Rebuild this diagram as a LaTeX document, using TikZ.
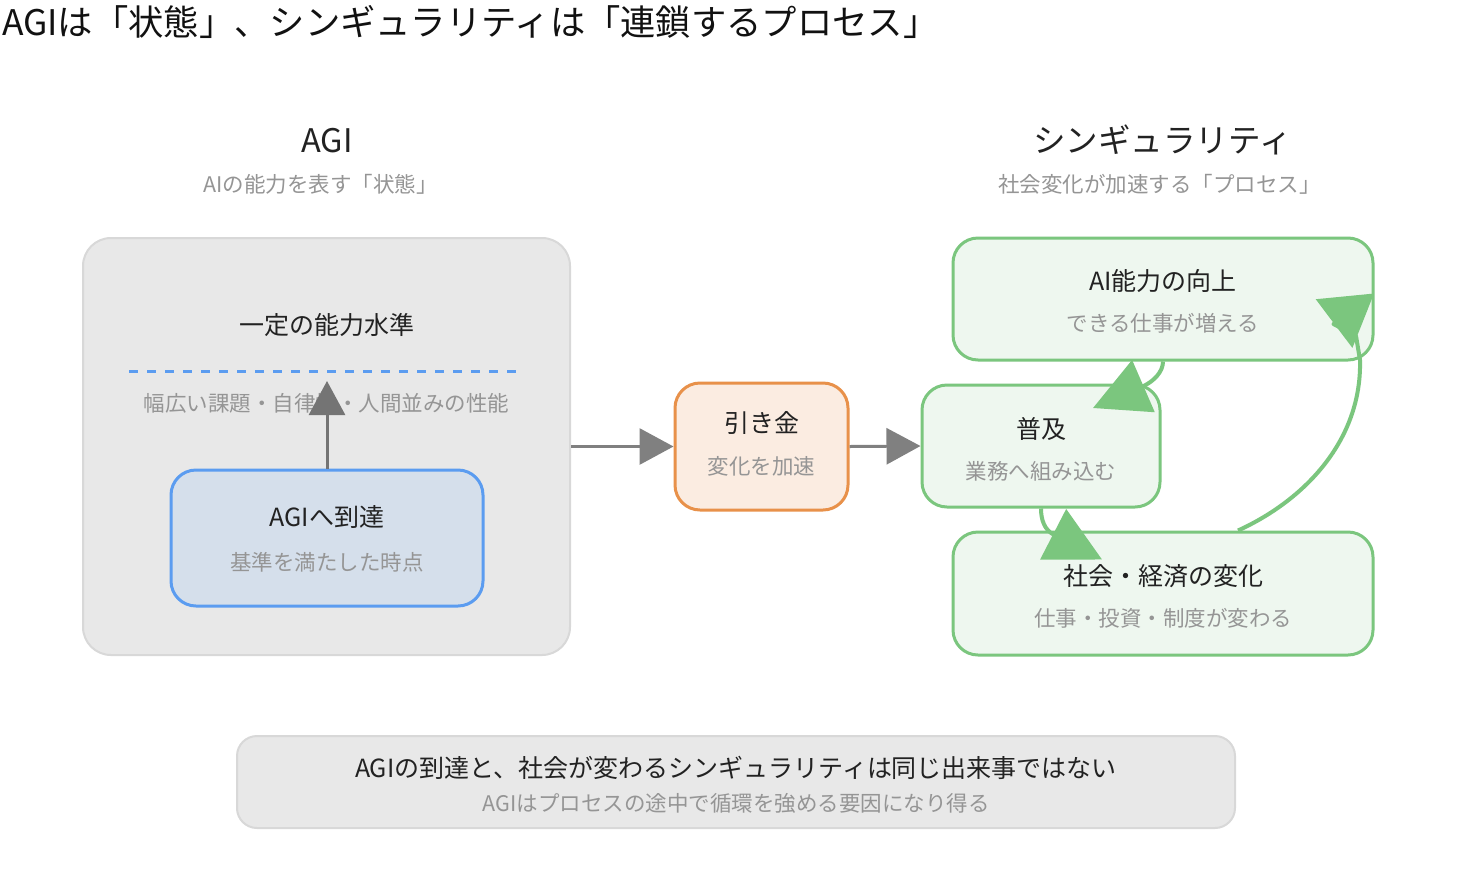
\documentclass[tikz,border=0pt]{standalone}
\usepackage{fontspec}
\setmainfont{Noto Sans CJK JP}
\usetikzlibrary{arrows.meta,calc}
\definecolor{titletext}{HTML}{111111}
\definecolor{maintext}{HTML}{222222}
\definecolor{subtext}{HTML}{959595}
\definecolor{panelfill}{HTML}{E8E8E8}
\definecolor{panelborder}{HTML}{D8D8D8}
\definecolor{bluefill}{HTML}{D5DFEB}
\definecolor{blueline}{HTML}{5B9CF0}
\definecolor{orangefill}{HTML}{FBECE1}
\definecolor{orangeline}{HTML}{E8914A}
\definecolor{greenfill}{HTML}{EEF7EF}
\definecolor{greenline}{HTML}{7BC67E}
\definecolor{arrowgray}{HTML}{808080}
\definecolor{arrowgraydark}{HTML}{747474}
\tikzset{
  panelbox/.style={draw=panelborder, fill=panelfill, line width=2pt, rounded corners=28pt, inner sep=0pt},
  notebox/.style={draw=panelborder, fill=panelfill, line width=2pt, rounded corners=20pt, inner sep=0pt},
  stepbox/.style={line width=3pt, rounded corners=25pt, inner sep=0pt},
  bluebox/.style={stepbox, draw=blueline, fill=bluefill},
  orangebox/.style={stepbox, draw=orangeline, fill=orangefill},
  greenbox/.style={stepbox, draw=greenline, fill=greenfill},
  titletxt/.style={text=titletext, font=\fontsize{35.3}{40}\selectfont, inner sep=0pt},
  headtxt/.style={text=maintext, font=\fontsize{32.5}{37}\selectfont, inner sep=0pt},
  maintxt/.style={text=maintext, font=\fontsize{25}{29}\selectfont, inner sep=0pt},
  subtxt/.style={text=subtext, font=\fontsize{21.5}{25}\selectfont, inner sep=0pt},
  grayarrow/.style={draw=arrowgray, line width=3pt, -{Triangle[length=34pt,width=36pt]}},
  greenarrow/.style={draw=greenline, line width=4pt, line join=round}
}
\begin{document}
\begin{tikzpicture}[x=1pt,y=-1pt]
\useasboundingbox (0,0) rectangle (1472,884);
\fill[white] (0,0) rectangle (1472,884);

% title
\node[titletxt, anchor=west] (title) at (2,22) {AGIは「状態」、シンギュラリティは「連鎖するプロセス」};

% headers
\node[headtxt] (hagi) at (327,141) {AGI};
\node[subtxt] (sagi) at (320.5,184) {AIの能力を表す「状態」};
\node[headtxt] (hsing) at (1162.5,140) {シンギュラリティ};
\node[subtxt] (ssing) at (1159.5,184) {社会変化が加速する「プロセス」};

% left panel
\node[panelbox, minimum width=487pt, minimum height=417pt] (lp) at (326.5,446.5) {};
\node[maintxt] (lvltxt) at (327,325) {一定の能力水準};
\draw[blueline, line width=3pt, dash pattern=on 9pt off 9pt] (129,371) -- (516,371);
\node[subtxt] (lvlsub) at (326.5,403) {幅広い課題・自律性・人間並みの性能};
\node[bluebox, minimum width=312pt, minimum height=136pt] (ag) at (327,538) {};
\node[maintxt] (agt) at (327,517) {AGIへ到達};
\node[subtxt] (ags) at (327,562) {基準を満たした時点};
\coordinate (lvl) at (327,381);
\draw[grayarrow, draw=arrowgraydark] (ag.north) -- (lvl);

% trigger
\node[orangebox, minimum width=173pt, minimum height=127pt] (tr) at (761.5,446.5) {};
\node[maintxt] (trt) at (761.5,423) {引き金};
\node[subtxt] (trs) at (761.5,466) {変化を加速};

% green boxes
\node[greenbox, minimum width=420pt, minimum height=122pt] (ai) at (1163,299) {};
\node[maintxt] (ait) at (1163,281) {AI能力の向上};
\node[subtxt] (ais) at (1163,323) {できる仕事が増える};

\node[greenbox, minimum width=238pt, minimum height=122pt] (pu) at (1041,446) {};
\node[maintxt] (put) at (1041,429) {普及};
\node[subtxt] (pus) at (1041,471) {業務へ組み込む};

\node[greenbox, minimum width=420pt, minimum height=123pt] (so) at (1163,593.5) {};
\node[maintxt] (sot) at (1163,576) {社会・経済の変化};
\node[subtxt] (sos) at (1163,618) {仕事・投資・制度が変わる};

% gray connectors
\draw[grayarrow] (lp.east) -- (tr.west);
\draw[grayarrow] (tr.east) -- (pu.west);

% green connectors
\draw[greenarrow, -{Triangle[length=55pt,width=56pt]}]
  (ai.south) .. controls (1163,372) and (1153.5,381.6) .. (1142.5,386.5) -- (1093,408);
\draw[greenarrow, -{Triangle[length=55pt,width=56pt]}]
  (pu.south) .. controls (1041,520) and (1044.6,529.9) .. (1053.5,534.5) -- (1102,559.5);
\draw[greenarrow, -{Triangle[length=50pt,width=60pt]}]
  ($(so.north)+(75,0)$) .. controls (1305,500) and (1362,440) .. (1360,360) -- (1356,336) -- (1333.5,324) -- (1374,293.5);

% note
\node[notebox, minimum width=998pt, minimum height=92pt] (note) at (736,782) {};
\node[maintxt] (nt) at (736,768) {AGIの到達と、社会が変わるシンギュラリティは同じ出来事ではない};
\node[subtxt] (ns) at (736,803) {AGIはプロセスの途中で循環を強める要因になり得る};
\end{tikzpicture}
\end{document}
